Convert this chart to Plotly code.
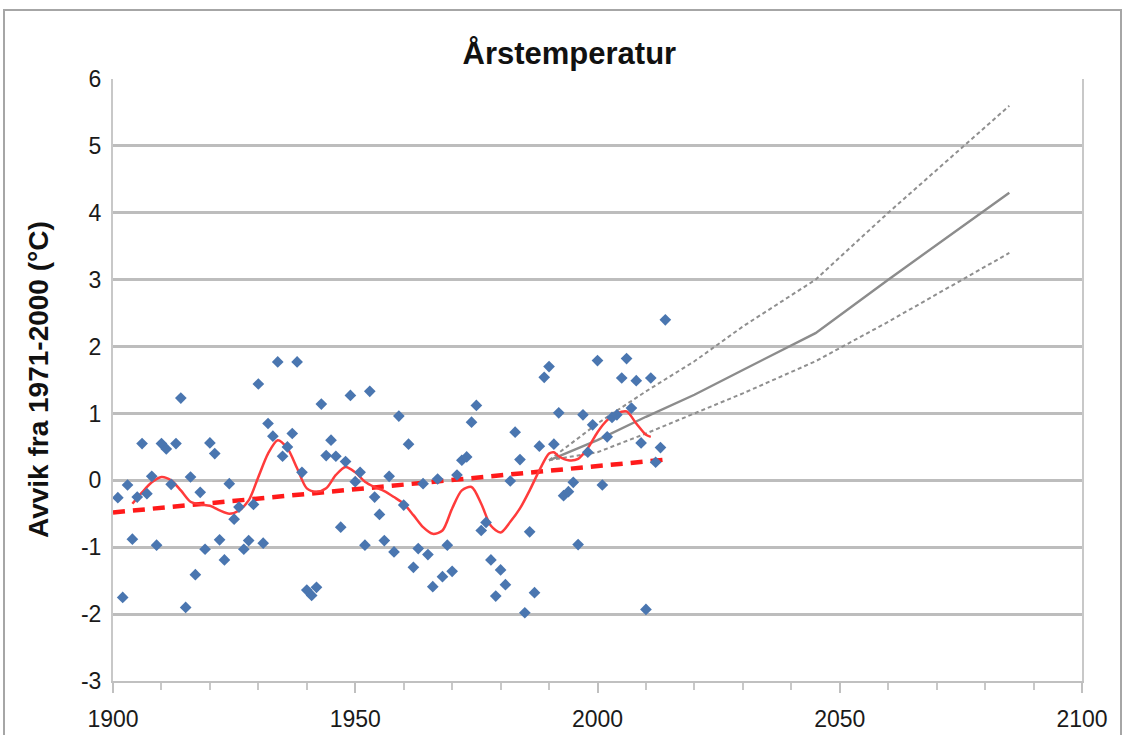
import plotly.graph_objects as go

# Annual temperature anomalies (deviation from 1971-2000, °C)
years = list(range(1901, 2015))
anomaly = [
    -0.26, -1.75, -0.07, -0.88, -0.25, 0.55, -0.20, 0.06, -0.97, 0.55,   # 1901-1910
    0.47, -0.06, 0.55, 1.23, -1.90, 0.05, -1.41, -0.18, -1.03, 0.56,     # 1911-1920
    0.40, -0.89, -1.19, -0.05, -0.58, -0.40, -1.03, -0.90, -0.36, 1.44,  # 1921-1930
    -0.94, 0.85, 0.66, 1.77, 0.36, 0.50, 0.70, 1.77, 0.12, -1.64,        # 1931-1940
    -1.72, -1.60, 1.14, 0.37, 0.60, 0.36, -0.70, 0.28, 1.27, -0.02,      # 1941-1950
    0.12, -0.97, 1.33, -0.25, -0.51, -0.90, 0.06, -1.07, 0.96, -0.37,    # 1951-1960
    0.54, -1.30, -1.02, -0.05, -1.11, -1.59, 0.02, -1.44, -0.97, -1.36,  # 1961-1970
    0.08, 0.30, 0.35, 0.87, 1.12, -0.75, -0.63, -1.19, -1.73, -1.34,     # 1971-1980
    -1.56, -0.01, 0.72, 0.31, -1.98, -0.77, -1.68, 0.51, 1.54, 1.70,     # 1981-1990
    0.54, 1.01, -0.23, -0.17, -0.03, -0.96, 0.98, 0.42, 0.83, 1.79,      # 1991-2000
    -0.07, 0.65, 0.94, 0.98, 1.53, 1.82, 1.08, 1.49, 0.56, -1.93,        # 2001-2010
    1.53, 0.27, 0.49, 2.40,                                              # 2011-2014
]

# Smoothed curve
smooth_years = [1904, 1906, 1908, 1910, 1912, 1914, 1916, 1918, 1920, 1922,
                1924, 1926, 1928, 1930, 1932, 1934, 1936, 1938, 1940, 1942,
                1944, 1946, 1948, 1950, 1952, 1954, 1956, 1958, 1960, 1962,
                1964, 1966, 1968, 1970, 1972, 1974, 1976, 1978, 1980, 1982,
                1984, 1986, 1988, 1990, 1991, 1992, 1994, 1996, 1998, 2000,
                2002, 2004, 2006, 2008, 2010, 2011]
smooth_vals = [-0.35, -0.18, -0.03, 0.05, 0.00, -0.15, -0.32, -0.36, -0.38, -0.45,
               -0.50, -0.45, -0.30, 0.05, 0.40, 0.60, 0.48, 0.18, -0.12, -0.17,
               -0.12, 0.08, 0.20, 0.12, -0.02, -0.10, -0.16, -0.25, -0.35, -0.52,
               -0.70, -0.80, -0.75, -0.42, -0.15, -0.10, -0.35, -0.68, -0.78, -0.62,
               -0.42, -0.15, 0.15, 0.40, 0.42, 0.36, 0.30, 0.32, 0.48, 0.72,
               0.90, 1.00, 1.03, 0.85, 0.68, 0.65]

# Linear trend
trend_years = [1900, 2014]
trend_vals = [-0.48, 0.31]

# Projections
proj_years = [1990, 2000, 2010, 2020, 2030, 2045, 2060, 2085]
proj_median = [0.30, 0.60, 0.95, 1.28, 1.65, 2.20, 3.00, 4.30]
proj_high = [0.30, 0.85, 1.33, 1.78, 2.30, 3.00, 4.00, 5.60]
proj_low = [0.30, 0.42, 0.70, 1.00, 1.30, 1.78, 2.37, 3.40]

x_ticks = [1900, 1950, 2000, 2050, 2100]
y_ticks = list(range(-3, 7))

FONT = "Liberation Sans Narrow, Liberation Sans, Arial"

fig = go.Figure()

fig.add_trace(go.Scatter(x=proj_years, y=proj_high, mode="lines",
                         line=dict(color="#8f8f8f", width=2, dash="4px,3px"), hoverinfo="skip"))
fig.add_trace(go.Scatter(x=proj_years, y=proj_low, mode="lines",
                         line=dict(color="#8f8f8f", width=2, dash="4px,3px"), hoverinfo="skip"))
fig.add_trace(go.Scatter(x=proj_years, y=proj_median, mode="lines",
                         line=dict(color="#8c8c8c", width=2.4), hoverinfo="skip"))
fig.add_trace(go.Scatter(x=trend_years, y=trend_vals, mode="lines",
                         line=dict(color="#ff1a1a", width=4.5, dash="12px,8px")))
fig.add_trace(go.Scatter(x=smooth_years, y=smooth_vals, mode="lines",
                         line=dict(color="#ff3b3b", width=2.5, shape="spline", smoothing=0.8)))
fig.add_trace(go.Scatter(x=years, y=anomaly, mode="markers",
                         marker=dict(symbol="diamond", size=9, color="#4a76b0",
                                     line=dict(width=0))))

fig.update_layout(
    width=1123, height=735,
    margin=dict(l=113, r=41, t=79, b=54, autoexpand=False),
    paper_bgcolor="white", plot_bgcolor="white",
    showlegend=False,
    font=dict(family=FONT, size=23, color="#1a1a1a"),
    title=dict(text="<b>Årstemperatur</b>", x=0.507, xref="container", xanchor="center",
               y=1 - 53 / 735, yref="container", yanchor="middle",
               font=dict(family=FONT, size=31, color="#111111")),
)

fig.update_xaxes(
    automargin=False,
    range=[1900, 2100], tickvals=x_ticks, ticktext=[str(v) for v in x_ticks],
    showgrid=False, zeroline=False,
    showline=True, linecolor="#c0c0c0", linewidth=2,
    ticks="outside", ticklen=10, tickcolor="#c0c0c0", tickwidth=2,
    ticklabelstandoff=6,
    minor=dict(dtick=10, tick0=1900, ticks="outside", ticklen=7, tickcolor="#c8c8c8",
               tickwidth=1.5, showgrid=False),
    tickfont=dict(family=FONT, size=23),
)
fig.update_yaxes(
    automargin=False,
    range=[-3, 6], tickvals=y_ticks, ticktext=[str(v) for v in y_ticks],
    showgrid=True, gridcolor="#bdbdbd", gridwidth=2.5,
    zeroline=False,
    showline=True, linecolor="#c8c8c8", linewidth=2, mirror=True,
    ticks="", ticklabelstandoff=5,
    tickfont=dict(family=FONT, size=23),
)

fig.add_annotation(
    text="<b>Avvik fra 1971-2000 (°C)</b>", textangle=-90,
    xref="paper", yref="paper", x=(38 - 113) / 969, y=0.5,
    xanchor="center", yanchor="middle", showarrow=False,
    font=dict(family=FONT, size=28, color="#111111"),
)

# Outer chart frame
fig.add_shape(type="rect", xref="paper", yref="paper",
              x0=(4 - 113) / 969, x1=(1121 - 113) / 969,
              y0=(681 - 760) / 602, y1=(681 - 10) / 602,
              line=dict(color="#a6a6a6", width=2), layer="below")

fig.write_html("out.html", config={"displayModeBar": False},
               post_script="document.body.style.margin='0';")
